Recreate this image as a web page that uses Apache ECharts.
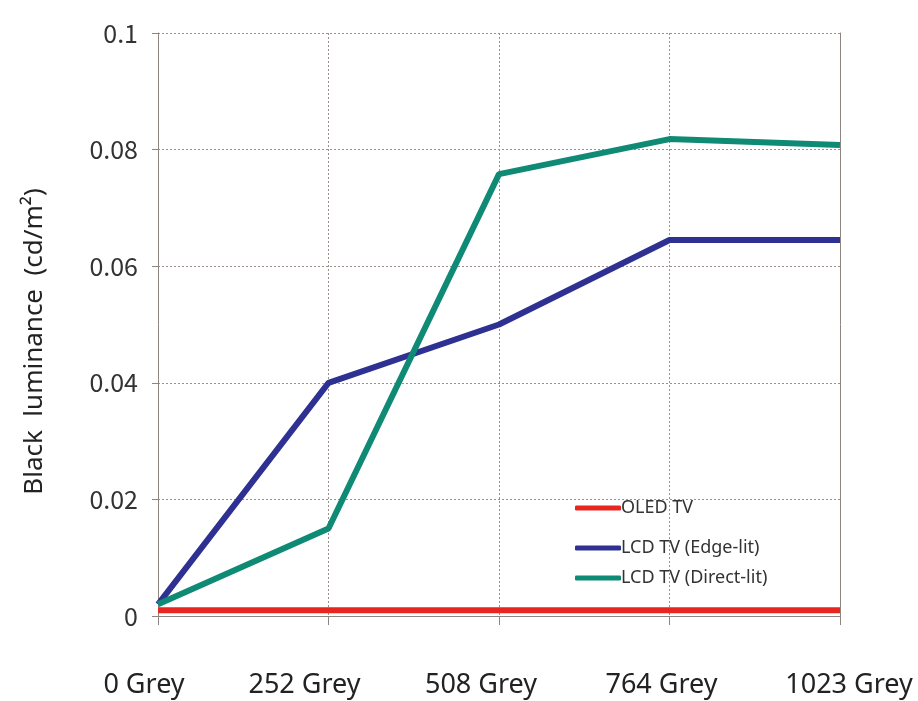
<!DOCTYPE html>
<html>
<head>
<meta charset="utf-8">
<script src="https://cdn.jsdelivr.net/npm/echarts@6/dist/echarts.min.js"></script>
<style>html,body{margin:0;padding:0;background:#fff;}#c{width:918px;height:701px;}</style>
</head>
<body>
<div id="c"></div>
<script>
const categories = ['0 Grey', '252 Grey', '508 Grey', '764 Grey', '1023 Grey'];
const oled = [0.001, 0.001, 0.001, 0.001, 0.001];
const edgeLit = [0.002, 0.040, 0.050, 0.0645, 0.0645];
const directLit = [0.002, 0.015, 0.0758, 0.0818, 0.0808];
const yTicks = { min: 0, max: 0.1, interval: 0.02 };
const names = ['OLED TV', 'LCD TV (Edge-lit)', 'LCD TV (Direct-lit)'];
const colors = ['#e8261f', '#2e3192', '#0f8a75'];

// small per-label horizontal nudges (px) so labels sit as in the reference
const labelShift = [-14, -24, -18, -8, 9];

const chart = echarts.init(document.getElementById('c'));
const gridLine = { show: true, lineStyle: { color: '#9a8f8c', type: [2, 2], width: 1 } };
const axisColor = '#8c8582';
const rich = {};
labelShift.forEach((s, i) => {
  rich['l' + i] = {
    fontFamily: 'Noto Sans', fontSize: 27, color: '#222',
    padding: s < 0 ? [0, -2 * s, 0, 0] : [0, 0, 0, 2 * s]
  };
});
function legend(i, top) {
  return {
    data: [names[i]], left: 570, top: top, itemWidth: 46, itemHeight: 5, icon: 'roundRect',
    textStyle: { fontFamily: 'Noto Sans', fontSize: 18, color: '#333', padding: [0, 0, 0, -5] }
  };
}
chart.setOption({
  animation: false,
  grid: { left: 158, right: 78, top: 33, bottom: 85, outerBoundsMode: 'none' },
  legend: [legend(0, 494), legend(1, 534), legend(2, 564)],
  xAxis: [{
    type: 'category', data: categories, boundaryGap: false,
    axisLine: { lineStyle: { color: axisColor, width: 1 } },
    axisTick: { show: true, length: 9, lineStyle: { color: axisColor } },
    axisLabel: {
      margin: 56, interval: 0,
      formatter: (v, i) => '{l' + i + '|' + v + '}',
      rich: rich
    },
    splitLine: gridLine
  }, {
    type: 'category', data: categories, boundaryGap: false, position: 'top',
    axisLine: { show: true, lineStyle: { color: axisColor, width: 1 } },
    axisTick: { show: false }, axisLabel: { show: false }, splitLine: { show: false }
  }],
  yAxis: [{
    type: 'value', min: yTicks.min, max: yTicks.max, interval: yTicks.interval,
    name: 'Black  luminance  (cd/m²)', nameLocation: 'middle', nameGap: 110,
    nameTextStyle: { fontFamily: 'Noto Sans', fontSize: 26, color: '#222', padding: [0, 34, 0, 0] },
    axisLine: { show: true, lineStyle: { color: axisColor, width: 1 } },
    axisTick: { show: true, length: 6, lineStyle: { color: axisColor } },
    axisLabel: { margin: 20, fontFamily: 'Noto Sans CJK KR', fontSize: 25, color: '#333',
      formatter: v => String(Math.round(v * 100) / 100) },
    splitLine: gridLine
  }, {
    type: 'value', min: yTicks.min, max: yTicks.max, interval: yTicks.interval, position: 'right',
    axisLine: { show: true, lineStyle: { color: axisColor, width: 1 } },
    axisTick: { show: false }, axisLabel: { show: false }, splitLine: { show: false }
  }],
  series: [
    { name: names[0], type: 'line', data: oled, color: colors[0], symbol: 'none', lineStyle: { width: 6 }, z: 5 },
    { name: names[1], type: 'line', data: edgeLit, color: colors[1], symbol: 'none', lineStyle: { width: 6 }, z: 3 },
    { name: names[2], type: 'line', data: directLit, color: colors[2], symbol: 'none', lineStyle: { width: 6 }, z: 4 }
  ]
});
</script>
</body>
</html>
